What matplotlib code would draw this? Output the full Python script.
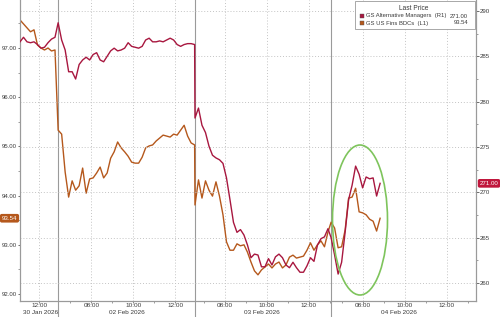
import matplotlib
matplotlib.use("Agg")
import matplotlib.pyplot as plt
import matplotlib.transforms as mtrans
from matplotlib.patches import Ellipse, Rectangle
import numpy as np

# ---------------- data (10-minute samples per trading session) ----------------
session_dates = ["30 Jan 2026", "02 Feb 2026", "03 Feb 2026", "04 Feb 2026"]
session_open = ["11:05", "06:25", "06:35", "06:30"]
session_close = ["12:54", "12:56", "13:04", "13:24"]
sample_step_min = 10

# GS Alternative Managers (right axis)
alt_mgr_s0 = [286.6, 287.1, 286.6, 286.5, 286.6, 286.3, 285.9, 286.0, 286.5, 286.9, 287.1]
alt_mgr_s1 = [288.7, 286.8, 285.7, 283.3, 283.3, 282.5, 284.1, 284.6, 284.9, 284.6,
              285.2, 285.4, 284.6, 284.4, 285.0, 285.6, 285.9, 285.6, 285.7, 285.9,
              286.5, 286.1, 286.0, 285.9, 286.1, 286.8, 287.0, 286.6, 286.6, 286.7,
              286.6, 286.8, 287.0, 286.8, 286.3, 286.1, 286.3, 286.4, 286.4, 286.3]
alt_mgr_s2 = [278.2, 279.3, 277.4, 276.6, 275.1, 274.1, 273.8, 273.6, 273.2, 271.6,
              269.2, 266.7, 265.6, 265.9, 265.3, 264.2, 262.8, 263.2, 263.1, 261.8,
              261.8, 262.7, 262.0, 262.9, 263.2, 262.8, 262.0, 261.7, 262.3, 261.7,
              261.2, 261.2, 261.9, 262.8, 262.4, 264.2, 264.9, 265.1, 266.0]
alt_mgr_s3 = [265.0, 263.1, 261.0, 262.3, 265.6, 269.2, 270.8, 272.9, 272.0, 270.5,
              271.7, 271.5, 271.6, 269.6, 271.0]

# GS US Fins BDCs (left axis)
bdc_s0 = [97.57, 97.49, 97.41, 97.33, 97.37, 97.06, 97.00, 96.96, 97.00, 96.94, 96.96]
bdc_s1 = [95.33, 95.25, 94.48, 93.97, 94.30, 94.11, 94.20, 94.56, 94.05, 94.34,
          94.36, 94.46, 94.58, 94.36, 94.46, 94.76, 94.89, 95.09, 94.97, 94.89,
          94.80, 94.68, 94.66, 94.66, 94.78, 94.97, 95.01, 95.03, 95.11, 95.17,
          95.23, 95.21, 95.19, 95.25, 95.23, 95.33, 95.43, 95.21, 95.07, 95.03]
bdc_s2 = [93.81, 94.32, 93.95, 94.30, 94.11, 93.99, 94.28, 93.99, 93.61, 93.06,
          92.89, 92.89, 93.02, 92.98, 93.00, 92.85, 92.65, 92.47, 92.39, 92.49,
          92.55, 92.61, 92.53, 92.61, 92.65, 92.53, 92.59, 92.75, 92.79, 92.73,
          92.75, 92.77, 92.89, 93.04, 92.89, 93.00, 93.08, 92.96, 93.26]
bdc_s3 = [93.46, 93.34, 92.94, 92.96, 93.30, 93.95, 93.97, 94.15, 93.67, 93.65,
          93.61, 93.52, 93.48, 93.28, 93.54]

alt_name = "GS Alternative Managers"
bdc_name = "GS US Fins BDCs"
left_ticks = [92.0, 93.0, 94.0, 95.0, 96.0, 97.0]
right_ticks = [260, 265, 270, 275, 280, 285, 290]

# ---------------- styling ----------------
RED = "#a8173f"
ORANGE = "#b5581c"
GREEN = "#7ec45c"
GRID = "#c4c4c4"
TXT = "#3a3a3a"
plt.rcParams['font.family'] = ['Liberation Sans', 'DejaVu Sans']

W, H = 500, 317
fig = plt.figure(figsize=(W / 100, H / 100), dpi=100)
fig.patch.set_facecolor("white")
ax_l, ax_r, ax_t, ax_b = 20, 476, 0, 301
ax = fig.add_axes([ax_l / W, 1 - ax_b / H, (ax_r - ax_l) / W, (ax_b - ax_t) / H])
ax2 = ax.twinx()


def hm(s):
    h, m = s.split(":")
    return int(h) * 60 + int(m)


opens = [hm(s) for s in session_open]
closes = [hm(s) for s in session_close]
lengths = [c - o for o, c in zip(opens, closes)]
offsets = np.concatenate([[0], np.cumsum(lengths)[:-1]])
x_end = offsets[-1] + lengths[-1]

alt_sessions = [alt_mgr_s0, alt_mgr_s1, alt_mgr_s2, alt_mgr_s3]
bdc_sessions = [bdc_s0, bdc_s1, bdc_s2, bdc_s3]

xs, alt_vals, bdc_vals = [], [], []
for k in range(4):
    n = len(alt_sessions[k])
    xs.extend(offsets[k] + np.arange(n) * sample_step_min)
    alt_vals.extend(alt_sessions[k])
    bdc_vals.extend(bdc_sessions[k])
xs = np.array(xs, dtype=float)

ax.plot(xs, bdc_vals, color=ORANGE, lw=1.0, zorder=3, solid_joinstyle="round")
ax2.plot(xs, alt_vals, color=RED, lw=1.0, zorder=3, solid_joinstyle="round")

ax.set_xlim(0, x_end)
ax.set_ylim(91.858, 97.976)
ax2.set_ylim(258.03, 291.21)

# x ticks
major_pos, major_lab, minor_pos = [], [], []
for k in range(4):
    for h in range(6, 14):
        t = h * 60
        if opens[k] <= t <= closes[k]:
            pos = offsets[k] + t - opens[k]
            if h in (8, 10, 12):
                major_pos.append(pos)
                major_lab.append(f"{h:02d}:00")
            else:
                minor_pos.append(pos)
ax.set_xticks(major_pos)
ax.set_xticklabels(major_lab)
ax.set_xticks(minor_pos, minor=True)
ax.tick_params(axis="x", which="major", length=1.6, width=0.6, pad=-0.4,
               labelsize=4.6, colors="#777777", labelcolor=TXT)
ax.tick_params(axis="x", which="minor", length=1.3, width=0.5, colors="#777777")
for p in major_pos:
    ax.axvline(p, color=GRID, lw=0.7, ls=(0, (1, 2)), zorder=0)

# date labels
xtr = ax.get_xaxis_transform()
for k in range(4):
    pos = offsets[k] + (13 * 60 - opens[k]) / 2
    ax.text(pos, -11.8 / (ax_b - ax_t), session_dates[k], transform=xtr,
            ha="center", va="center", fontsize=4.6, color=TXT, clip_on=False)

# session separators
for k in range(1, 4):
    ax.axvline(offsets[k], ymin=-16 / (ax_b - ax_t), ymax=1, color="#9a9a9a",
               lw=0.8, zorder=1, clip_on=False)

# y axes
ax.set_yticks(left_ticks)
ax.set_yticklabels([f"{v:.2f}" for v in left_ticks])
ax.set_yticks(np.arange(92.5, 97.6, 1.0), minor=True)
ax.tick_params(axis="y", which="major", length=1.8, width=0.6, pad=0.5,
               labelsize=4.3, colors="#555555", labelcolor=TXT)
ax.tick_params(axis="y", which="minor", length=1.2, width=0.5, colors="#777777")
ax2.set_yticks(right_ticks)
ax2.set_yticklabels([f"{v}" for v in right_ticks])
ax2.set_yticks(np.arange(262.5, 290, 5), minor=True)
ax2.tick_params(axis="y", which="major", length=1.8, width=0.6, pad=0.8,
                labelsize=4.4, colors="#555555", labelcolor=TXT)
ax2.tick_params(axis="y", which="minor", length=1.2, width=0.5, colors="#777777")
for v in right_ticks:
    ax2.axhline(v, color=GRID, lw=0.7, ls=(0, (1, 2)), zorder=0)

for a in (ax, ax2):
    a.spines["top"].set_visible(False)
    for s in ("left", "right", "bottom"):
        a.spines[s].set_color("#9a9a9a")
        a.spines[s].set_linewidth(0.8)

# green highlight ellipse
ell = Ellipse(((360 - ax_l) / (ax_r - ax_l), 1 - (220 - ax_t) / (ax_b - ax_t)),
              width=55 / (ax_r - ax_l), height=150 / (ax_b - ax_t),
              transform=ax.transAxes, fill=False, edgecolor=GREEN, lw=1.2, zorder=5)
ax2.add_patch(ell)

# last price tags
tl = mtrans.blended_transform_factory(fig.transFigure, ax.transData)
ax.text(9.5 / W, bdc_vals[-1], f"{bdc_vals[-1]:.2f}", transform=tl, ha="center",
        va="center", fontsize=4.4, color="white", clip_on=False, zorder=6,
        bbox=dict(boxstyle="round,pad=0.3,rounding_size=0.3", fc=ORANGE, ec="none"))
tr = mtrans.blended_transform_factory(fig.transFigure, ax2.transData)
ax2.text(489 / W, alt_vals[-1], f"{alt_vals[-1]:.2f}", transform=tr, ha="center",
         va="center", fontsize=4.4, color="white", clip_on=False, zorder=6,
         bbox=dict(boxstyle="round,pad=0.3,rounding_size=0.3", fc="#c0163c", ec="none"))


# legend box
def fp(x, y):
    return (x / W, 1 - y / H)


box = Rectangle(fp(355, 29), 120 / W, 28 / H, transform=fig.transFigure,
                fc="white", ec="#9a9a9a", lw=0.6, zorder=10)
fig.add_artist(box)
fig.text(*fp(414, 8), "Last Price", ha="center", va="center", fontsize=4.8,
         color=TXT, zorder=11)
for row, (col, name, tag, val) in enumerate([
        (RED, alt_name, "(R1)", f"{alt_vals[-1]:.2f}"),
        (ORANGE, bdc_name, "(L1)", f"{bdc_vals[-1]:.2f}")]):
    yy = 16 + row * 7
    sw = Rectangle(fp(359.5, yy + 2.2), 4.4 / W, 4.4 / H, transform=fig.transFigure,
                   fc=col, ec="#555555", lw=0.3, zorder=11)
    fig.add_artist(sw)
    fig.text(*fp(366, yy), f"{name}  {tag}", ha="left", va="center", fontsize=4.2,
             color=TXT, zorder=11)
    fig.text(*fp(468, yy), val, ha="right", va="center", fontsize=4.2,
             color=TXT, zorder=11)

fig.savefig("out.png", dpi=100, facecolor="white")
